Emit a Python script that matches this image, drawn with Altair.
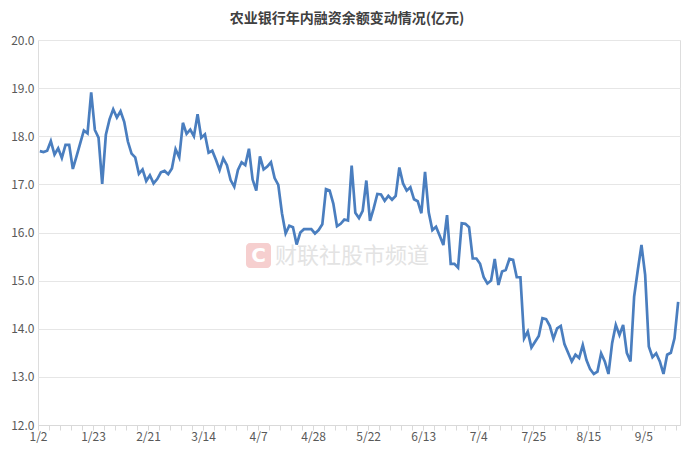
import json
import altair as alt
import pandas as pd

title_text = "农业银行年内融资余额变动情况(亿元)"
tick_labels = ["1/2", "1/23", "2/21", "3/14", "4/7", "4/28", "5/22", "6/13",
               "7/4", "7/25", "8/15", "9/5"]
watermark_text = "财联社股市频道"

balance = [
    17.69, 17.67, 17.70, 17.90, 17.62, 17.75, 17.55, 17.82, 17.82, 17.32,
    17.58, 17.85, 18.12, 18.06, 18.91, 18.13, 17.97, 17.01, 18.03, 18.35,
    18.56, 18.39, 18.52, 18.30, 17.89, 17.64, 17.56, 17.22, 17.31, 17.07,
    17.19, 17.02, 17.11, 17.25, 17.28, 17.21, 17.33, 17.73, 17.56, 18.28,
    18.05, 18.14, 18.00, 18.46, 17.97, 18.04, 17.66, 17.70, 17.51, 17.30,
    17.54, 17.40, 17.09, 16.95, 17.30, 17.46, 17.40, 17.74, 17.10, 16.87,
    17.58, 17.31, 17.37, 17.46, 17.13, 16.99, 16.40, 15.98, 16.14, 16.11,
    15.75, 16.00, 16.07, 16.07, 16.07, 15.98, 16.05, 16.17, 16.90, 16.87,
    16.60, 16.13, 16.18, 16.27, 16.25, 17.39, 16.41, 16.30, 16.45, 17.08,
    16.24, 16.50, 16.80, 16.79, 16.66, 16.76, 16.68, 16.76, 17.35, 17.02,
    16.87, 16.94, 16.69, 16.65, 16.40, 17.26, 16.42, 16.05, 16.12, 15.93,
    15.74, 16.36, 15.35, 15.35, 15.27, 16.19, 16.18, 16.11, 15.46, 15.46,
    15.35, 15.07, 14.94, 15.00, 15.45, 14.91, 15.19, 15.22, 15.45, 15.43,
    15.07, 15.07, 13.80, 13.94, 13.61, 13.73, 13.85, 14.22, 14.20, 14.06,
    13.79, 14.01, 14.06, 13.68, 13.50, 13.32, 13.46, 13.39, 13.66, 13.35,
    13.16, 13.06, 13.11, 13.49, 13.32, 13.06, 13.70, 14.08, 13.87, 14.08,
    13.50, 13.32, 14.67, 15.22, 15.74, 15.12, 13.63, 13.41, 13.49, 13.32,
    13.06, 13.46, 13.50, 13.80, 14.56,
]

n = len(balance)
df = pd.DataFrame({"idx": list(range(n)), "value": balance})

tick_vals = [k * 3 - 0.5 for k in range(int(n / 3) + 1)]
label_expr = (
    "(datum.value + 0.5) % 15 == 0 ? "
    f"{json.dumps(tick_labels)}[round((datum.value + 0.5) / 15)] : ''"
)

FONT = "Noto Sans CJK SC"

x_enc = alt.X(
    "idx:Q",
    scale=alt.Scale(domain=[-0.5, n - 0.5], nice=False, zero=False),
    axis=alt.Axis(
        values=tick_vals, labelExpr=label_expr, title=None, grid=False,
        tickSize=5, tickColor="#d9d9d9", domainColor="#d9d9d9",
        labelFlush=False, labelOverlap=False, labelPadding=1,
        labelFontSize=12, labelColor="#595959", labelFont=FONT,
    ),
)
y_enc = alt.Y(
    "value:Q",
    scale=alt.Scale(domain=[12, 20], nice=False, zero=False),
    axis=alt.Axis(
        values=list(range(12, 21)), format=".1f", title=None, domain=False,
        ticks=False, gridColor="#e6e6e6", labelPadding=4,
        labelFontSize=12, labelColor="#595959", labelFont=FONT,
    ),
)

line = alt.Chart(df).mark_line(color="#4a7ebf", strokeWidth=2.7).encode(
    x=x_enc, y=y_enc
)

wm_df = pd.DataFrame({"t": [watermark_text], "c": ["C"]})
logo = alt.Chart(wm_df).mark_rect(color="#f6cfcf", cornerRadius=4).encode(
    x=alt.value(208), x2=alt.value(233), y=alt.value(203), y2=alt.value(228)
)
logo_c = alt.Chart(wm_df).mark_text(
    color="white", fontSize=20, fontWeight="bold", font="DejaVu Sans"
).encode(text="c:N", x=alt.value(220.5), y=alt.value(216))
wm_text = alt.Chart(wm_df).mark_text(
    color="#e3e3e3", fontSize=22, font=FONT, align="left", baseline="middle"
).encode(text="t:N", x=alt.value(237), y=alt.value(216))

chart = alt.layer(logo, logo_c, wm_text, line).properties(
    width=642,
    height=385,
    autosize=alt.AutoSizeParams(type="none"),
    padding={"left": 30, "top": 32, "right": 4, "bottom": 23},
    title=alt.TitleParams(
        title_text, fontSize=14, font=FONT, fontWeight="bold",
        color="#404040", anchor="middle", offset=8, dx=-12,
    ),
).configure_view(stroke=None).configure(background="white")

chart.save("out.html", embed_options={"renderer": "svg", "actions": False})
